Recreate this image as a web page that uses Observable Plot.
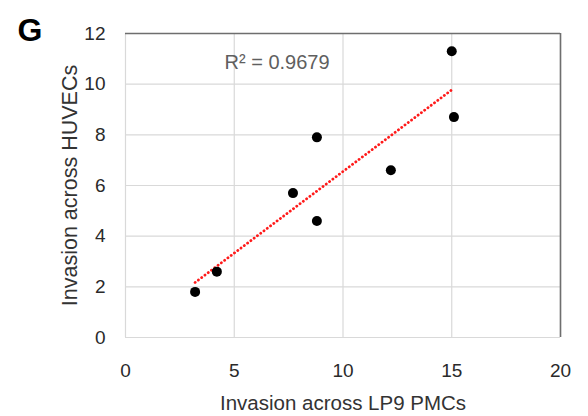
<!DOCTYPE html>
<html>
<head>
<meta charset="utf-8">
<script src="https://cdn.jsdelivr.net/npm/d3@7"></script>
<script src="https://cdn.jsdelivr.net/npm/@observablehq/plot@0.6"></script>
<style>
  html, body { margin: 0; padding: 0; background: #fff; }
  #chart { width: 588px; height: 416px; }
  svg { font-family: "Liberation Sans", Arial, Helvetica, sans-serif; }
</style>
</head>
<body>
<div id="chart"></div>
<script>
// Data
const lp9 = [3.2, 4.2, 7.7, 8.8, 8.8, 12.2, 15.0, 15.1];
const huvec = [1.8, 2.6, 5.7, 7.9, 4.6, 6.6, 11.3, 8.7];
const xTicks = [0, 5, 10, 15, 20];
const yTicks = [0, 2, 4, 6, 8, 10, 12];
const xDomain = [0, 20];
const yDomain = [0, 12];
const panelLabel = "G";
const r2Label = "R² = 0.9679";
const xLabel = "Invasion across LP9 PMCs";
const yLabel = "Invasion across HUVECs";

const data = lp9.map((x, i) => ({x, y: huvec[i]}));

const chart = Plot.plot({
  width: 588,
  height: 416,
  marginLeft: 125,
  marginRight: 28,
  marginTop: 33,
  marginBottom: 79,
  style: {fontFamily: '"Liberation Sans", Arial, Helvetica, sans-serif', background: "#fff"},
  x: {domain: xDomain, ticks: xTicks},
  y: {domain: yDomain, ticks: yTicks},
  marks: [
    Plot.gridX(xTicks, {stroke: "#d9d9d9", strokeOpacity: 1, strokeWidth: 1.2}),
    Plot.gridY(yTicks, {stroke: "#d9d9d9", strokeOpacity: 1, strokeWidth: 1.2}),
    Plot.ruleY([yDomain[1]], {stroke: "#6e6e6e", strokeWidth: 1.6}),
    Plot.ruleX([xDomain[1]], {stroke: "#6e6e6e", strokeWidth: 1.6}),
    Plot.axisX(xTicks, {tickSize: 0, tickPadding: 26, fontSize: 19, fill: "#2a2a2a",
      label: xLabel, labelAnchor: "center", labelArrow: "none", labelOffset: 72}),
    Plot.axisY(yTicks, {tickSize: 0, tickPadding: 20, fontSize: 19, fill: "#2a2a2a",
      label: yLabel, labelAnchor: "center", labelArrow: "none", labelOffset: 64}),
    Plot.linearRegressionY(data, {x: "x", y: "y", ci: 0, stroke: "#ff1a1a", strokeWidth: 2.8,
      strokeDasharray: "0.1,4", strokeLinecap: "round"}),
    Plot.dot(data, {x: "x", y: "y", r: 5, fill: "#000", stroke: "none"}),
    Plot.text([r2Label], {frameAnchor: "top-left", dx: 99, dy: 29, textAnchor: "start",
      lineAnchor: "middle", fontSize: 20, fill: "#5f5f5f"}),
    Plot.text([panelLabel], {frameAnchor: "top-left", dx: -108, dy: -3, textAnchor: "start",
      lineAnchor: "middle", fontSize: 32, fontWeight: "bold", fill: "#000"})
  ]
});
// Axis label font sizes
chart.querySelectorAll('g[aria-label="x-axis label"] text')
  .forEach(t => { t.setAttribute("font-size", 20.5); t.setAttribute("fill", "#333"); });
chart.querySelectorAll('g[aria-label="y-axis label"] text')
  .forEach(t => { t.setAttribute("font-size", 21.5); t.setAttribute("fill", "#333"); });
document.getElementById("chart").appendChild(chart);
</script>
</body>
</html>
